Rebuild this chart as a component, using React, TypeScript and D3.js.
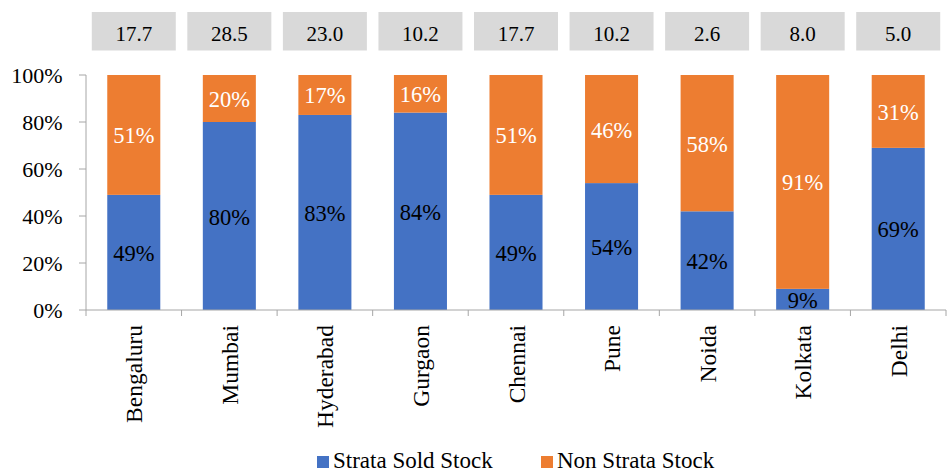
import React from "react";
import * as d3 from "d3";

const categories = ["Bengaluru", "Mumbai", "Hyderabad", "Gurgaon", "Chennai", "Pune", "Noida", "Kolkata", "Delhi"];
const strataSold = [49, 80, 83, 84, 49, 54, 42, 9, 69];
const nonStrata = [51, 20, 17, 16, 51, 46, 58, 91, 31];
const topValues = ["17.7", "28.5", "23.0", "10.2", "17.7", "10.2", "2.6", "8.0", "5.0"];
const yTicks = [0, 20, 40, 60, 80, 100];
const seriesNames = ["Strata Sold Stock", "Non Strata Stock"];

const W = 947;
const H = 473;
const FONT = "'Liberation Serif', 'Times New Roman', serif";
const BLUE = "#4472C4";
const ORANGE = "#ED7D31";
const AXIS = "#A6A6A6";

export default function App() {
  const left = 86;
  const right = 946;
  const top = 75;
  const bottom = 310;
  const x = d3.scaleBand<string>().domain(categories).range([left, right]).paddingInner(0).paddingOuter(0);
  const y = d3.scaleLinear().domain([0, 100]).range([bottom, top]);
  const bw = x.bandwidth() * 0.555;

  return (
    <svg width={W} height={H} style={{ position: "absolute", left: 0, top: 0, fontFamily: FONT }}>
      <rect width={W} height={H} fill="#fff" />
      {/* top value boxes */}
      {categories.map((c, i) => {
        const cx = x(c)! + x.bandwidth() / 2;
        return (
          <g key={"box" + c}>
            <rect x={cx - 42} y={12} width={84} height={38.5} fill="#D9D9D9" />
            <text x={cx} y={41} textAnchor="middle" fontSize={21} fill="#000">
              {topValues[i]}
            </text>
          </g>
        );
      })}
      {/* bars */}
      {categories.map((c, i) => {
        const cx = x(c)! + x.bandwidth() / 2;
        const s = strataSold[i];
        const n = nonStrata[i];
        const yS = y(s);
        const yT = y(s + n);
        return (
          <g key={"bar" + c}>
            <rect x={cx - bw / 2} y={yS} width={bw} height={bottom - yS} fill={BLUE} />
            <rect x={cx - bw / 2} y={yT} width={bw} height={yS - yT} fill={ORANGE} />
            <text x={cx} y={(yS + bottom) / 2 + 8.5} textAnchor="middle" fontSize={22.5} fill="#000">
              {s}%
            </text>
            <text x={cx} y={(yS + yT) / 2 + 8.5} textAnchor="middle" fontSize={22.5} fill="#fff">
              {n}%
            </text>
          </g>
        );
      })}
      {/* y axis */}
      <line x1={left} x2={left} y1={top} y2={bottom} stroke={AXIS} strokeWidth={1} />
      {yTicks.map((t) => (
        <g key={"yt" + t}>
          <line x1={left - 7} x2={left} y1={y(t)} y2={y(t)} stroke={AXIS} strokeWidth={1} />
          <text x={62.5} y={y(t) + 7.5} textAnchor="end" fontSize={22} fill="#000">
            {t}%
          </text>
        </g>
      ))}
      {/* x axis */}
      <line x1={left} x2={right} y1={bottom} y2={bottom} stroke={AXIS} strokeWidth={1} />
      {categories.map((c) => (
        <line key={"xt" + c} x1={x(c)!} x2={x(c)!} y1={bottom} y2={bottom + 6} stroke={AXIS} strokeWidth={1} />
      ))}
      <line x1={right} x2={right} y1={bottom} y2={bottom + 6} stroke={AXIS} strokeWidth={1} />
      {categories.map((c) => {
        const cx = x(c)! + x.bandwidth() / 2;
        return (
          <text
            key={"xl" + c}
            transform={`translate(${cx + 8.5},325) rotate(-90)`}
            textAnchor="end"
            fontSize={23.5}
            fill="#000"
          >
            {c}
          </text>
        );
      })}
      {/* legend */}
      <rect x={317} y={456} width={12} height={12} fill={BLUE} />
      <text x={333} y={467.5} fontSize={23} fill="#000">{seriesNames[0]}</text>
      <rect x={541} y={456} width={12} height={12} fill={ORANGE} />
      <text x={557} y={467.5} fontSize={23} fill="#000">{seriesNames[1]}</text>
    </svg>
  );
}
